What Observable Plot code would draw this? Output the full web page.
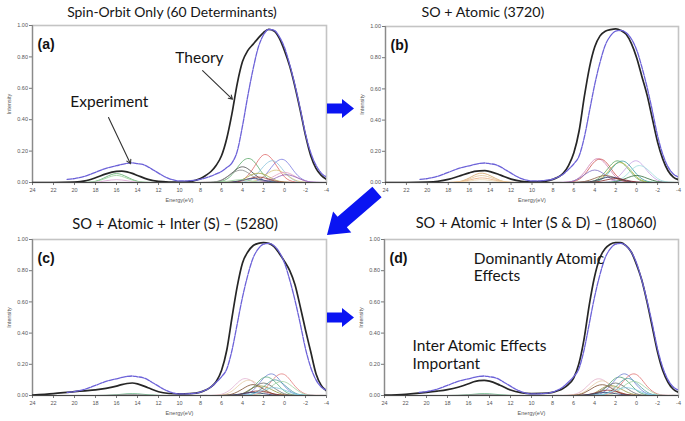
<!DOCTYPE html>
<html><head><meta charset="utf-8">
<script src="https://cdn.jsdelivr.net/npm/d3@7"></script>
<script src="https://cdn.jsdelivr.net/npm/@observablehq/plot@0.6"></script>
<style>
body{margin:0;background:#fff;}
#fig{position:relative;width:685px;height:421px;overflow:hidden;background:#fff;}
.panel{position:absolute;}
.title{position:absolute;font-family:Lato,"Open Sans",sans-serif;font-size:15px;color:#151515;white-space:nowrap;line-height:1;}
#arrows{position:absolute;left:0;top:0;pointer-events:none;}
</style></head>
<body><div id="fig"></div>
<script>
// ---------- axis ticks ----------
const xTicks = [24,22,20,18,16,14,12,10,8,6,4,2,0,-2,-4];
const yTicks = [0,0.2,0.4,0.6,0.8,1.0];

// ---------- theory (black) curves ----------
const mainX = [24,22,20,19,18,17,16,15.5,15,14.5,14,13,12,11,10,9,8,7.5,7,6.5,6,5.5,5,4.5,4,3.5,3,2.5,2,1.5,1,0.5,0,-0.5,-1,-1.5,-2,-2.5,-3,-3.5,-4];
const theoryA = [0,0,0.003,0.01,0.03,0.055,0.071,0.073,0.068,0.058,0.045,0.02,0.007,0.003,0.002,0.006,0.025,0.045,0.07,0.11,0.17,0.28,0.44,0.63,0.77,0.84,0.88,0.92,0.955,0.975,0.965,0.92,0.84,0.74,0.61,0.46,0.3,0.17,0.09,0.045,0.02];
const theoryB = [0,0,0.003,0.008,0.02,0.04,0.062,0.071,0.075,0.076,0.07,0.047,0.022,0.008,0.004,0.006,0.02,0.035,0.06,0.11,0.19,0.33,0.55,0.74,0.87,0.94,0.97,0.98,0.985,0.975,0.95,0.89,0.8,0.68,0.56,0.41,0.26,0.15,0.075,0.035,0.018];
const theoryC = [0.002,0.012,0.025,0.03,0.036,0.046,0.06,0.07,0.077,0.08,0.075,0.05,0.024,0.013,0.01,0.012,0.022,0.035,0.055,0.09,0.16,0.29,0.5,0.7,0.85,0.92,0.96,0.975,0.98,0.975,0.955,0.91,0.86,0.8,0.71,0.57,0.42,0.28,0.14,0.065,0.03];
const theoryD = [0.002,0.008,0.02,0.028,0.038,0.053,0.075,0.088,0.095,0.097,0.092,0.066,0.035,0.018,0.012,0.013,0.02,0.03,0.045,0.07,0.11,0.2,0.36,0.58,0.76,0.88,0.94,0.97,0.98,0.98,0.96,0.92,0.84,0.74,0.6,0.44,0.28,0.16,0.085,0.04,0.02];

// ---------- experiment (blue) curves ----------
const expX = [20.7,20,19,18,17,16,15,14.5,14,13.5,13,12.5,12,11.5,11,10.5,10,9,8,7.5,7,6.5,6,5.5,5,4.5,4,3.5,3,2.5,2,1.5,1,0.5,0,-0.5,-1,-1.5,-2,-2.5,-3,-3.5,-4];
const expA = [0.02,0.025,0.04,0.065,0.09,0.107,0.122,0.125,0.12,0.115,0.1,0.08,0.06,0.04,0.025,0.015,0.01,0.012,0.02,0.03,0.04,0.055,0.07,0.095,0.125,0.2,0.36,0.55,0.72,0.86,0.94,0.975,0.97,0.93,0.86,0.75,0.62,0.47,0.31,0.19,0.11,0.06,0.035];
const expBCD = [0.02,0.025,0.04,0.065,0.09,0.107,0.122,0.125,0.12,0.115,0.1,0.08,0.06,0.04,0.025,0.015,0.01,0.012,0.022,0.035,0.055,0.085,0.12,0.17,0.29,0.46,0.63,0.77,0.88,0.94,0.97,0.975,0.96,0.92,0.85,0.74,0.61,0.46,0.3,0.18,0.1,0.055,0.035];

// ---------- component curves (thin coloured) ----------
const compX = [8,7,6,5,4,3,2,1,0,-1,-2,-3,-4];
const lowX = [20,19,18,17,16,15,14,13,12,11];

const compA = [
  [0,0,.007,.05,.135,.14,.05,.007,0,0,0,0,0],
  [0,0,0,.001,.016,.088,.176,.131,.036,.004,0,0,0],
  [0,0,0,0,0,.004,.035,.117,.143,.064,.011,.001,0],
  [0,0,0,0,.003,.028,.102,.137,.068,.012,.001,0,0],
  [0,.001,.014,.061,.1,.061,.014,.001,0,0,0,0,0],
  [0,.002,.016,.058,.078,.039,.007,0,0,0,0,0,0],
  [0,0,0,0,0,.007,.039,.078,.058,.016,.002,0,0],
  [0,0,0,0,0,.001,.009,.04,.065,.04,.009,.001,0],
  [0,0,0,.003,.019,.053,.053,.019,.003,0,0,0,0],
  [0,0,0,0,0,0,.004,.024,.049,.036,.01,.001,0],
  [0,0,0,.002,.011,.031,.031,.011,.002,0,0,0,0],
  [0,0,0,.003,.015,.025,.015,.003,0,0,0,0,0],
  [0,0,.003,.012,.018,.008,.001,0,0,0,0,0,0]
];
const lowA = [
  [0,.001,.008,.035,.057,.035,.008,.001,0,0],
  [0,0,.006,.027,.045,.027,.006,0,0,0],
  [0,0,.002,.011,.018,.011,.002,0,0,0]
];
const compB = [
  [0,.001,.011,.066,.148,.121,.036,.004,0,0,0,0,0],
  [0,0,.007,.049,.135,.135,.049,.007,0,0,0,0,0],
  [0,0,0,.001,.012,.068,.137,.102,.028,.003,0,0,0],
  [0,0,0,0,.007,.049,.12,.109,.036,.004,0,0,0],
  [0,0,0,0,.005,.039,.117,.129,.053,.008,.001,0,0],
  [0,0,0,0,0,.002,.023,.093,.139,.076,.015,.001,0],
  [0,0,0,0,0,0,.008,.047,.105,.086,.026,.003,0],
  [0,.001,.011,.049,.08,.049,.011,.001,0,0,0,0,0],
  [0,0,.001,.006,.027,.045,.027,.006,.001,0,0,0,0],
  [0,0,0,0,0,.001,.006,.027,.045,.027,.006,.001,0],
  [0,0,0,.002,.011,.031,.031,.011,.002,0,0,0,0],
  [0,0,0,.001,.003,.015,.025,.015,.003,0,0,0,0]
];
const lowB = [
  [0,0,0,.005,.029,.059,.044,.012,.001,0],
  [0,0,0,.004,.022,.044,.033,.009,.001,0],
  [0,0,0,.003,.015,.029,.022,.006,0,0],
  [0,0,0,.002,.009,.018,.013,.004,0,0]
];
const compC = [
  [0,.001,.008,.047,.105,.086,.026,.003,0,0,0,0,0],
  [0,0,.003,.028,.084,.092,.038,.006,0,0,0,0,0],
  [0,0,0,0,.004,.033,.11,.134,.06,.01,.001,0,0],
  [0,0,0,0,0,.004,.033,.11,.134,.06,.01,.001,0],
  [0,0,0,0,.009,.052,.115,.094,.028,.003,0,0,0],
  [0,0,0,0,.001,.011,.055,.1,.067,.016,.002,0,0],
  [0,0,0,0,0,.001,.018,.071,.088,.044,.006,0,0],
  [0,0,.001,.009,.042,.07,.042,.009,.001,0,0,0,0],
  [0,0,0,.001,.012,.05,.059,.03,.005,0,0,0,0],
  [0,0,0,.001,.011,.049,.08,.049,.011,.001,0,0,0],
  [0,0,0,.002,.01,.026,.026,.01,.002,0,0,0,0],
  [0,0,0,.003,.012,.02,.012,.003,0,0,0,0,0],
  [0,0,0,0,.001,.01,.035,.05,.035,.01,.001,0,0]
];
const lowC = [
  [0,0,0,.001,.005,.011,.011,.005,.001,0],
  [0,0,0,.001,.004,.007,.006,.002,0,0]
];
const compD = [
  [0,.001,.006,.04,.1,.092,.03,.004,0,0,0,0,0],
  [0,0,.003,.022,.074,.091,.041,.007,0,0,0,0,0],
  [0,0,0,0,.007,.045,.111,.1,.033,.004,0,0,0],
  [0,0,0,0,.003,.028,.102,.137,.068,.012,.001,0,0],
  [0,0,0,0,0,.004,.033,.11,.134,.06,.01,.001,0],
  [0,0,0,0,.001,.01,.054,.108,.08,.022,.002,0,0],
  [0,0,0,0,0,.001,.018,.071,.088,.044,.006,0,0],
  [0,0,.002,.016,.055,.067,.03,.005,0,0,0,0,0],
  [0,0,0,.002,.016,.055,.058,.025,.004,0,0,0,0],
  [0,0,0,.001,.011,.049,.08,.049,.011,.001,0,0,0],
  [0,0,0,.003,.015,.033,.027,.008,.001,0,0,0,0],
  [0,0,0,.003,.012,.02,.012,.003,0,0,0,0,0],
  [0,0,0,0,.001,.01,.035,.05,.035,.01,.001,0,0]
];
const lowD = [
  [0,0,0,.001,.005,.011,.011,.005,.001,0],
  [0,0,0,.001,.004,.007,.006,.002,0,0]
];

// ---------- texts ----------
const titles = ["Spin-Orbit Only (60 Determinants)", "SO + Atomic (3720)", "SO + Atomic + Inter (S) \u2013 (5280)", "SO + Atomic + Inter (S & D) \u2013 (18060)"];
const panelLabels = ["(a)", "(b)", "(c)", "(d)"];
const notesA = [{text: "Theory", x: 10.4, y: 0.79}, {text: "Experiment", x: 20.4, y: 0.51}];
const pointersA = [{x1: 7.8, y1: 0.713, x2: 4.95, y2: 0.53}, {x1: 16.76, y1: 0.414, x2: 14.67, y2: 0.12}];
const notesD = [{text: "Dominantly Atomic", x: 15.5, y: 0.878}, {text: "Effects", x: 15.5, y: 0.763},
                {text: "Inter Atomic Effects", x: 21.33, y: 0.32}, {text: "Important", x: 21.33, y: 0.2}];

// ---------- styles ----------
const colA = ["#5daa6a","#e06a6a","#7b7be0","#8cc4dc","#4a4a4a","#8c8c8c","#d9c27e","#e6a4c4","#a8a848","#9362b8","#a04040","#304080","#9ad09a"];
const lowColA = ["#5daa6a","#9ad09a","#d7a0d0"];
const colB = ["#d27fb2","#cc5050","#5aa85a","#b4b43c","#3c9ea0","#c4a0e4","#9fdede","#7f6fc4","#8e6040","#2f6a3a","#30305e","#8a2c2c"];
const lowColB = ["#d4a466","#e2c494","#e8a878","#ead8b0"];
const colC = ["#e2b2d2","#e4caa2","#6f80d2","#e27e7e","#5cae7c","#4ea0a4","#a4d2a4","#805030","#96963e","#707070","#923232","#2e4070","#80c8e0"];
const lowColC = ["#5cae7c","#909090"];
const colD = ["#e4b0c8","#e4caa2","#4ea070","#6f80d2","#e07272","#4ea0a4","#a4d2a4","#805030","#96963e","#707070","#923232","#2e4070","#80c8e0"];
const lowColD = ["#5cae7c","#909090"];

const panels = [
  {left:0, top:0, width:340, height:207, mt:25, mr:14, mb:25, ml:32, theory:theoryA, exp:expA, comps:compA, cols:colA, low:lowA, lowCols:lowColA, notes:notesA, pointers:pointersA, tx:172, ty:12, tw:210},
  {left:345, top:0, width:340, height:207, mt:26, mr:7, mb:25, ml:40, theory:theoryB, exp:expBCD, comps:compB, cols:colB, low:lowB, lowCols:lowColB, notes:[], pointers:[], tx:483, ty:12, tw:123},
  {left:0, top:210, width:340, height:211, mt:29, mr:14, mb:26, ml:32, theory:theoryC, exp:expBCD, comps:compC, cols:colC, low:lowC, lowCols:lowColC, notes:[], pointers:[], tx:175, ty:223, tw:206},
  {left:345, top:210, width:340, height:211, mt:29, mr:7, mb:26, ml:39, theory:theoryD, exp:expBCD, comps:compD, cols:colD, low:lowD, lowCols:lowColD, notes:notesD, pointers:[], tx:536, ty:223, tw:241}
];

const fig = document.getElementById("fig");
const annFont = "Lato, 'Open Sans', sans-serif";

panels.forEach((p, i) => {
  const marks = [
    Plot.frame({stroke: "#c4c4c4", strokeWidth: 1.6}),
    Plot.axisY({ticks: yTicks, tickFormat: d3.format(".2f"), tickSize: 3, tickPadding: 1.5, label: "Intensity", labelAnchor: "center", labelOffset: 25, labelArrow: "none", stroke: "#777"}),
    Plot.axisX({ticks: xTicks, tickFormat: d => String(d), tickSize: 3, tickPadding: 2.5, label: "Energy(eV)", labelAnchor: "center", labelOffset: 19, labelArrow: "none", stroke: "#777"}),
    Plot.ruleX([24], {stroke: "#8a8a8a", strokeWidth: 1.2})
  ];
  p.comps.forEach((ys, k) => {
    marks.push(Plot.line(compX.map((x, j) => ({x, y: ys[j]})), {x: "x", y: "y", curve: "natural", stroke: p.cols[k], strokeWidth: 0.9, strokeOpacity: 0.9, clip: true}));
  });
  p.low.forEach((ys, k) => {
    marks.push(Plot.line(lowX.map((x, j) => ({x, y: ys[j]})), {x: "x", y: "y", curve: "natural", stroke: p.lowCols[k], strokeWidth: 0.9, strokeOpacity: 0.9, clip: true}));
  });
  marks.push(Plot.ruleY([0], {stroke: "#444", strokeWidth: 1.2}));
  marks.push(Plot.line(mainX.map((x, j) => ({x, y: p.theory[j]})), {x: "x", y: "y", curve: "monotone-x", stroke: "#262626", strokeWidth: 1.7, clip: true}));
  marks.push(Plot.line(expX.map((x, j) => ({x, y: p.exp[j]})), {x: "x", y: "y", curve: "monotone-x", stroke: "#6c62d8", strokeWidth: 1.3, strokeDasharray: "5,1.2", clip: true}));
  marks.push(Plot.text([panelLabels[i]], {frameAnchor: "top-left", dx: 5, dy: 14, text: d => d, fontWeight: "bold", fontSize: 14, fill: "#111", textAnchor: "start", fontFamily: "Liberation Sans, Arial, sans-serif"}));
  if (p.notes.length) marks.push(Plot.text(p.notes, {x: "x", y: "y", text: "text", fontSize: 15.5, fill: "#151515", textAnchor: "start", fontFamily: annFont}));
  if (p.pointers.length) marks.push(Plot.arrow(p.pointers, {x1: "x1", y1: "y1", x2: "x2", y2: "y2", stroke: "#333", strokeWidth: 1.1, headLength: 6}));

  const svg = Plot.plot({
    width: p.width, height: p.height,
    marginTop: p.mt, marginRight: p.mr, marginBottom: p.mb, marginLeft: p.ml,
    x: {domain: [24, -4]},
    y: {domain: [0, 1]},
    style: {fontFamily: "Liberation Sans, Arial, sans-serif", fontSize: "5.5px", color: "#555", background: "transparent", overflow: "visible"},
    marks
  });
  const wrap = document.createElement("div");
  wrap.className = "panel";
  wrap.style.left = p.left + "px";
  wrap.style.top = p.top + "px";
  wrap.appendChild(svg);
  fig.appendChild(wrap);

  const t = document.createElement("div");
  t.className = "title";
  t.textContent = titles[i];
  fig.appendChild(t);
  const w = t.getBoundingClientRect().width;
  t.style.fontSize = (15 * p.tw / w) + "px";
  const r = t.getBoundingClientRect();
  t.style.left = (p.tx - r.width / 2) + "px";
  t.style.top = (p.ty - r.height / 2) + "px";
});

// ---------- blue flow arrows ----------
const ns = "http://www.w3.org/2000/svg";
const ov = document.createElementNS(ns, "svg");
ov.setAttribute("id", "arrows");
ov.setAttribute("width", 685);
ov.setAttribute("height", 421);
const shapes = [
  "327,103.5 342,103.5 342,99 354,108.5 342,118 342,113.5 327,113.5",
  "327,312.5 342,312.5 342,308 354,317.5 342,327 342,322.5 327,322.5",
  "372.4,186.7 381.6,197.3 346.8,227.3 351.3,232.6 327,235 333.1,211.4 337.6,216.7"
];
shapes.forEach(s => {
  const pg = document.createElementNS(ns, "polygon");
  pg.setAttribute("points", s);
  pg.setAttribute("fill", "#0a14f2");
  ov.appendChild(pg);
});
fig.appendChild(ov);
</script>
</body></html>
